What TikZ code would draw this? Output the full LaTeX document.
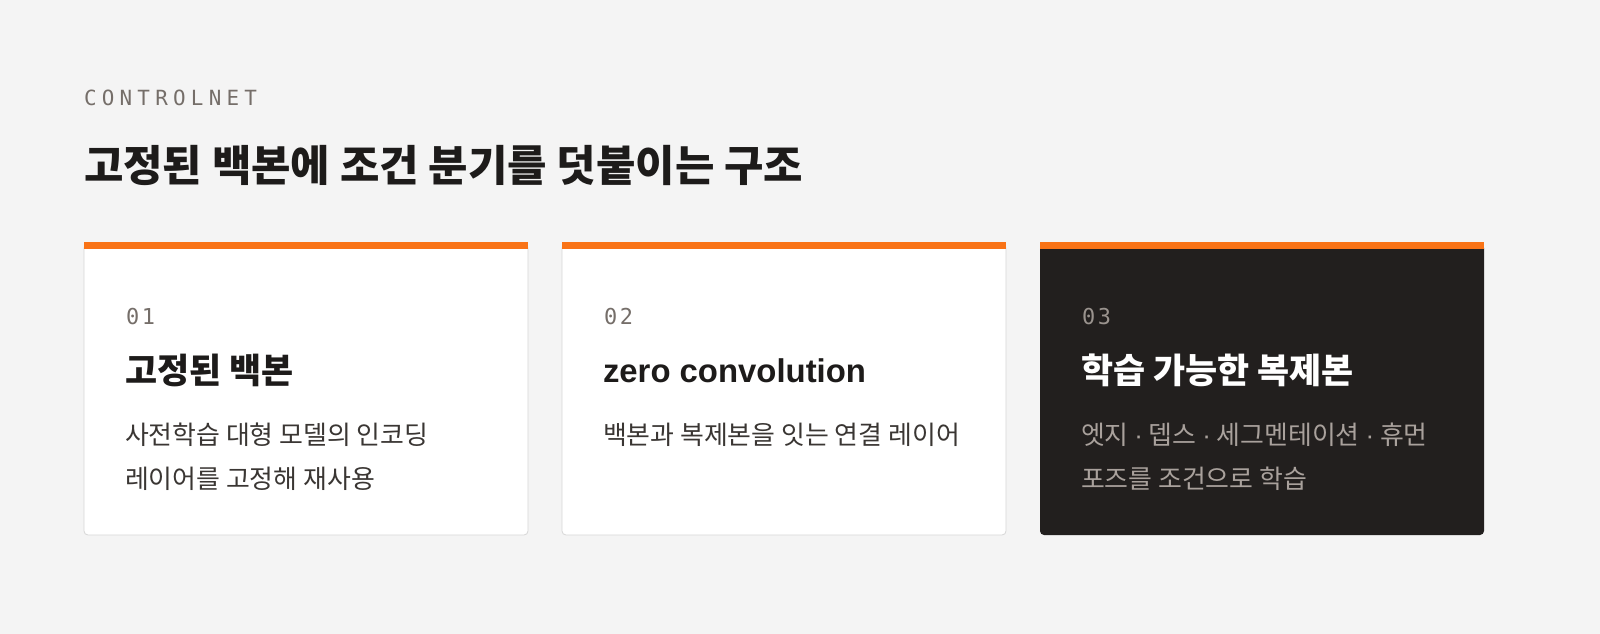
\documentclass[tikz,border=0pt]{standalone}
\usepackage{fontspec}
\setmainfont{Noto Sans CJK KR}
\newfontfamily\latinfont{Liberation Sans}
\newfontfamily\monofont{DejaVu Sans Mono}[LetterSpace=12]
\newfontfamily\monospaced{DejaVu Sans Mono}[LetterSpace=25]
\newcommand{\middot}{{\latinfont ·}}
\definecolor{bg}{HTML}{F4F4F4}
\definecolor{orange}{HTML}{F97316}
\definecolor{ink}{HTML}{1D1B1A}
\definecolor{bodyc}{HTML}{3A3633}
\definecolor{numc}{HTML}{756E69}
\definecolor{darkcard}{HTML}{221F1E}
\definecolor{darkbody}{HTML}{A9A19C}
\definecolor{darknum}{HTML}{9A938E}
\definecolor{cardline}{HTML}{D6D6D6}
\begin{document}
\begin{tikzpicture}[x=1bp,y=-1bp,
  every node/.style={inner sep=0pt,outer sep=0pt,anchor=base west},
  kicker/.style={font=\monospaced\fontsize{21}{24}\selectfont,text=numc},
  titletext/.style={font=\bfseries\fontsize{43}{50}\selectfont,text=ink},
  numtext/.style={font=\monofont\fontsize{22}{24}\selectfont,text=numc},
  headtext/.style={font=\bfseries\fontsize{35}{40}\selectfont,text=ink},
  latinhead/.style={font=\latinfont\bfseries\fontsize{33}{40}\selectfont,text=ink},
  bodytext/.style={font=\fontsize{26}{44}\selectfont,text=bodyc,align=left},
  lightcard/.style={fill=white,draw=cardline,line width=0.8bp,rounded corners=4bp},
  darkcardbox/.style={fill=darkcard,rounded corners=4bp},
  topbar/.style={fill=orange}
]
\useasboundingbox[fill=bg] (0,0) rectangle (1600,634);

\node[kicker] (kick) at (84,106) {CONTROLNET};
\node[titletext] (title) at (84,182) {고정된 백본에 조건 분기를 덧붙이는 구조};

% card 1
\draw[lightcard] (84,244) rectangle (528,535);
\fill[topbar] (84,242) rectangle (528,249);
\node[numtext] (n1) at (126,324) {01};
\node[headtext] (h1) at (125,383) {고정된 백본};
\node[bodytext] (b1) at (125,444) {사전학습 대형 모델의 인코딩};
\node[bodytext] (b1b) at (125,488) {레이어를 고정해 재사용};

% card 2
\draw[lightcard] (562,244) rectangle (1006,535);
\fill[topbar] (562,242) rectangle (1006,249);
\node[numtext] (n2) at (604,324) {02};
\node[latinhead] (h2) at (603,382) {zero convolution};
\node[bodytext] (b2) at (603,444) {백본과 복제본을 잇는 연결 레이어};

% card 3
\fill[darkcardbox] (1040,244) rectangle (1484,535);
\fill[topbar] (1040,242) rectangle (1484,249);
\node[numtext,text=darknum] (n3) at (1082,324) {03};
\node[headtext,text=white] (h3) at (1081,383) {학습 가능한 복제본};
\node[bodytext,text=darkbody] (b3) at (1081,444) {엣지 \middot{} 뎁스 \middot{} 세그멘테이션 \middot{} 휴먼};
\node[bodytext,text=darkbody] (b3b) at (1081,488) {포즈를 조건으로 학습};
\end{tikzpicture}
\end{document}
